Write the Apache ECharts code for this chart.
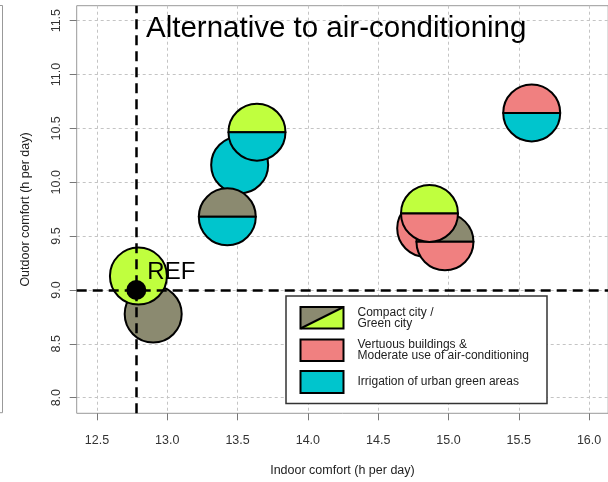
<!DOCTYPE html>
<html>
<head>
<meta charset="utf-8">
<script src="https://cdn.jsdelivr.net/npm/echarts@6/dist/echarts.min.js"></script>
<style>
    html, body { margin: 0; padding: 0; background: #fff; }
    #main { width: 608px; height: 482px; }
</style>
</head>
<body>
<div id="main"></div>
<script>
// scenarios (indoor / outdoor comfort, h per day)
var indoorX  = [12.90, 12.795, 13.515, 13.427, 13.638, 14.838, 14.975, 14.865, 15.592];
var outdoorY = [8.776, 9.129, 10.161, 9.679, 10.465, 9.572, 9.447, 9.711, 10.644];
// which measure fills the upper / lower half of each disc
var topKind    = ['compact', 'green', 'irrigation', 'compact',    'green',      'vertuous', 'compact',  'green',    'vertuous'];
var bottomKind = ['compact', 'green', 'irrigation', 'irrigation', 'irrigation', 'vertuous', 'vertuous', 'vertuous', 'irrigation'];

var refX = 12.78, refY = 9.0;

var xTicks = [12.5, 13.0, 13.5, 14.0, 14.5, 15.0, 15.5, 16.0];
var yTicks = [8.0, 8.5, 9.0, 9.5, 10.0, 10.5, 11.0, 11.5];

var legendLabels = [
    'Compact city /\nGreen city',
    'Vertuous buildings &\nModerate use of air-conditioning',
    'Irrigation of urban green areas'
];

var kindColor = {
    compact: '#8B8A70',
    green: '#C0FF3E',
    vertuous: '#F08080',
    irrigation: '#00C5CD'
};

var FONT = 'Liberation Sans, Arial, sans-serif';

var discData = [];
for (var i = 0; i < indoorX.length; i++) {
    discData.push([indoorX[i], outdoorY[i]]);
}

var myChart = echarts.init(document.getElementById('main'), null, {renderer: 'canvas'});

var renderDisc = function (params, api) {
    var c = api.coord([api.value(0), api.value(1)]);
    var r = 28.5;
    var up = kindColor[topKind[params.dataIndex]];
    var down = kindColor[bottomKind[params.dataIndex]];
    if (up === down) {
        return {
            type: 'circle',
            shape: {cx: c[0], cy: c[1], r: r},
            style: {fill: up, stroke: '#000', lineWidth: 2}
        };
    }
    return {
        type: 'group',
        children: [
            {
                type: 'sector',
                shape: {cx: c[0], cy: c[1], r0: 0, r: r, startAngle: Math.PI, endAngle: Math.PI * 2, clockwise: true},
                style: {fill: up, stroke: '#000', lineWidth: 2, lineJoin: 'round'}
            },
            {
                type: 'sector',
                shape: {cx: c[0], cy: c[1], r0: 0, r: r, startAngle: 0, endAngle: Math.PI, clockwise: true},
                style: {fill: down, stroke: '#000', lineWidth: 2, lineJoin: 'round'}
            }
        ]
    };
};

// legend box, drawn by hand like the R one
var legendGraphics = [
    {type: 'rect', shape: {x: 286, y: 296, width: 261, height: 107.5},
        style: {fill: '#fff', stroke: '#333', lineWidth: 1.5}, z: 10},
    {type: 'polygon', shape: {points: [[300.5, 307], [343.5, 307], [300.5, 328.5]]},
        style: {fill: kindColor.compact}, z: 11},
    {type: 'polygon', shape: {points: [[343.5, 307], [343.5, 328.5], [300.5, 328.5]]},
        style: {fill: kindColor.green}, z: 11},
    {type: 'line', shape: {x1: 300.5, y1: 328.5, x2: 343.5, y2: 307},
        style: {stroke: '#000', lineWidth: 2}, z: 12},
    {type: 'rect', shape: {x: 300.5, y: 307, width: 43, height: 21.5},
        style: {fill: 'none', stroke: '#000', lineWidth: 2}, z: 12},
    {type: 'rect', shape: {x: 300.5, y: 339.5, width: 43, height: 21.5},
        style: {fill: kindColor.vertuous, stroke: '#000', lineWidth: 2}, z: 12},
    {type: 'rect', shape: {x: 300.5, y: 371, width: 43, height: 22},
        style: {fill: kindColor.irrigation, stroke: '#000', lineWidth: 2}, z: 12}
];
var legendY = [318, 350, 382];
for (var k = 0; k < legendLabels.length; k++) {
    legendGraphics.push({
        type: 'text', z: 12,
        style: {x: 357.5, y: legendY[k], text: legendLabels[k], fill: '#222',
            font: '12px ' + FONT, lineHeight: 11.5, verticalAlign: 'middle', align: 'left'}
    });
}

option = {
    animation: false,
    backgroundColor: '#fff',
    grid: {
        left: 76.7, top: 5.7, height: 407.6, width: 531.5,
        outerBoundsMode: 'none', containLabel: false,
        show: true, borderColor: '#999', borderWidth: 1, backgroundColor: 'transparent'
    },
    xAxis: {
        type: 'value', min: 12.356, max: 16.136,
        name: 'Indoor comfort (h per day)', nameLocation: 'middle', nameGap: 51,
        nameTextStyle: {fontSize: 12.5, color: '#222', fontFamily: FONT},
        axisLine: {show: false},
        axisTick: {show: true, length: 7, customValues: xTicks, lineStyle: {color: '#777'}},
        axisLabel: {customValues: xTicks, margin: 21, fontSize: 12.5, color: '#333', fontFamily: FONT,
            formatter: function (v) { return v.toFixed(1); }},
        splitLine: {show: true, lineStyle: {color: '#c4c4c4', type: [3, 3], width: 1}}
    },
    yAxis: {
        type: 'value', min: 7.855, max: 11.639,
        name: 'Outdoor comfort (h per day)', nameLocation: 'middle', nameGap: 45,
        nameTextStyle: {fontSize: 12.5, color: '#222', fontFamily: FONT},
        axisLine: {show: false},
        axisTick: {show: true, length: 7, customValues: yTicks, lineStyle: {color: '#777'}},
        axisLabel: {customValues: yTicks, rotate: 90, margin: 14, fontSize: 12.5, color: '#333', fontFamily: FONT,
            formatter: function (v) { return v.toFixed(1); }},
        splitLine: {show: true, lineStyle: {color: '#c4c4c4', type: [3, 3], width: 1}}
    },
    graphic: [
        {type: 'polyline', shape: {points: [[0, 5.5], [2.5, 5.5], [2.5, 412.7], [0, 412.7]]},
            style: {stroke: '#999', lineWidth: 1, fill: 'none'}},
        {type: 'text', z: 20,
            style: {x: 146, y: 28.5, text: 'Alternative to air-conditioning', fill: '#000',
                font: '29.5px ' + FONT, verticalAlign: 'middle', align: 'left'}}
    ].concat(legendGraphics),
    series: [
        {
            type: 'custom',
            name: 'scenarios',
            renderItem: renderDisc,
            data: discData,
            z: 2
        },
        {
            type: 'scatter',
            name: 'REF',
            data: [[refX, refY]],
            symbolSize: 20,
            itemStyle: {color: '#000', opacity: 1},
            z: 6,
            label: {
                show: true, formatter: 'REF', position: 'right', distance: 1, offset: [0, -18],
                fontSize: 24, color: '#000', fontFamily: FONT
            },
            markLine: {
                silent: true,
                symbol: 'none',
                label: {show: false},
                lineStyle: {color: '#000', width: 2.5, type: [10, 6]},
                data: [{xAxis: refX}, {yAxis: refY}]
            }
        }
    ]
};
myChart.setOption(option);
</script>
</body>
</html>
